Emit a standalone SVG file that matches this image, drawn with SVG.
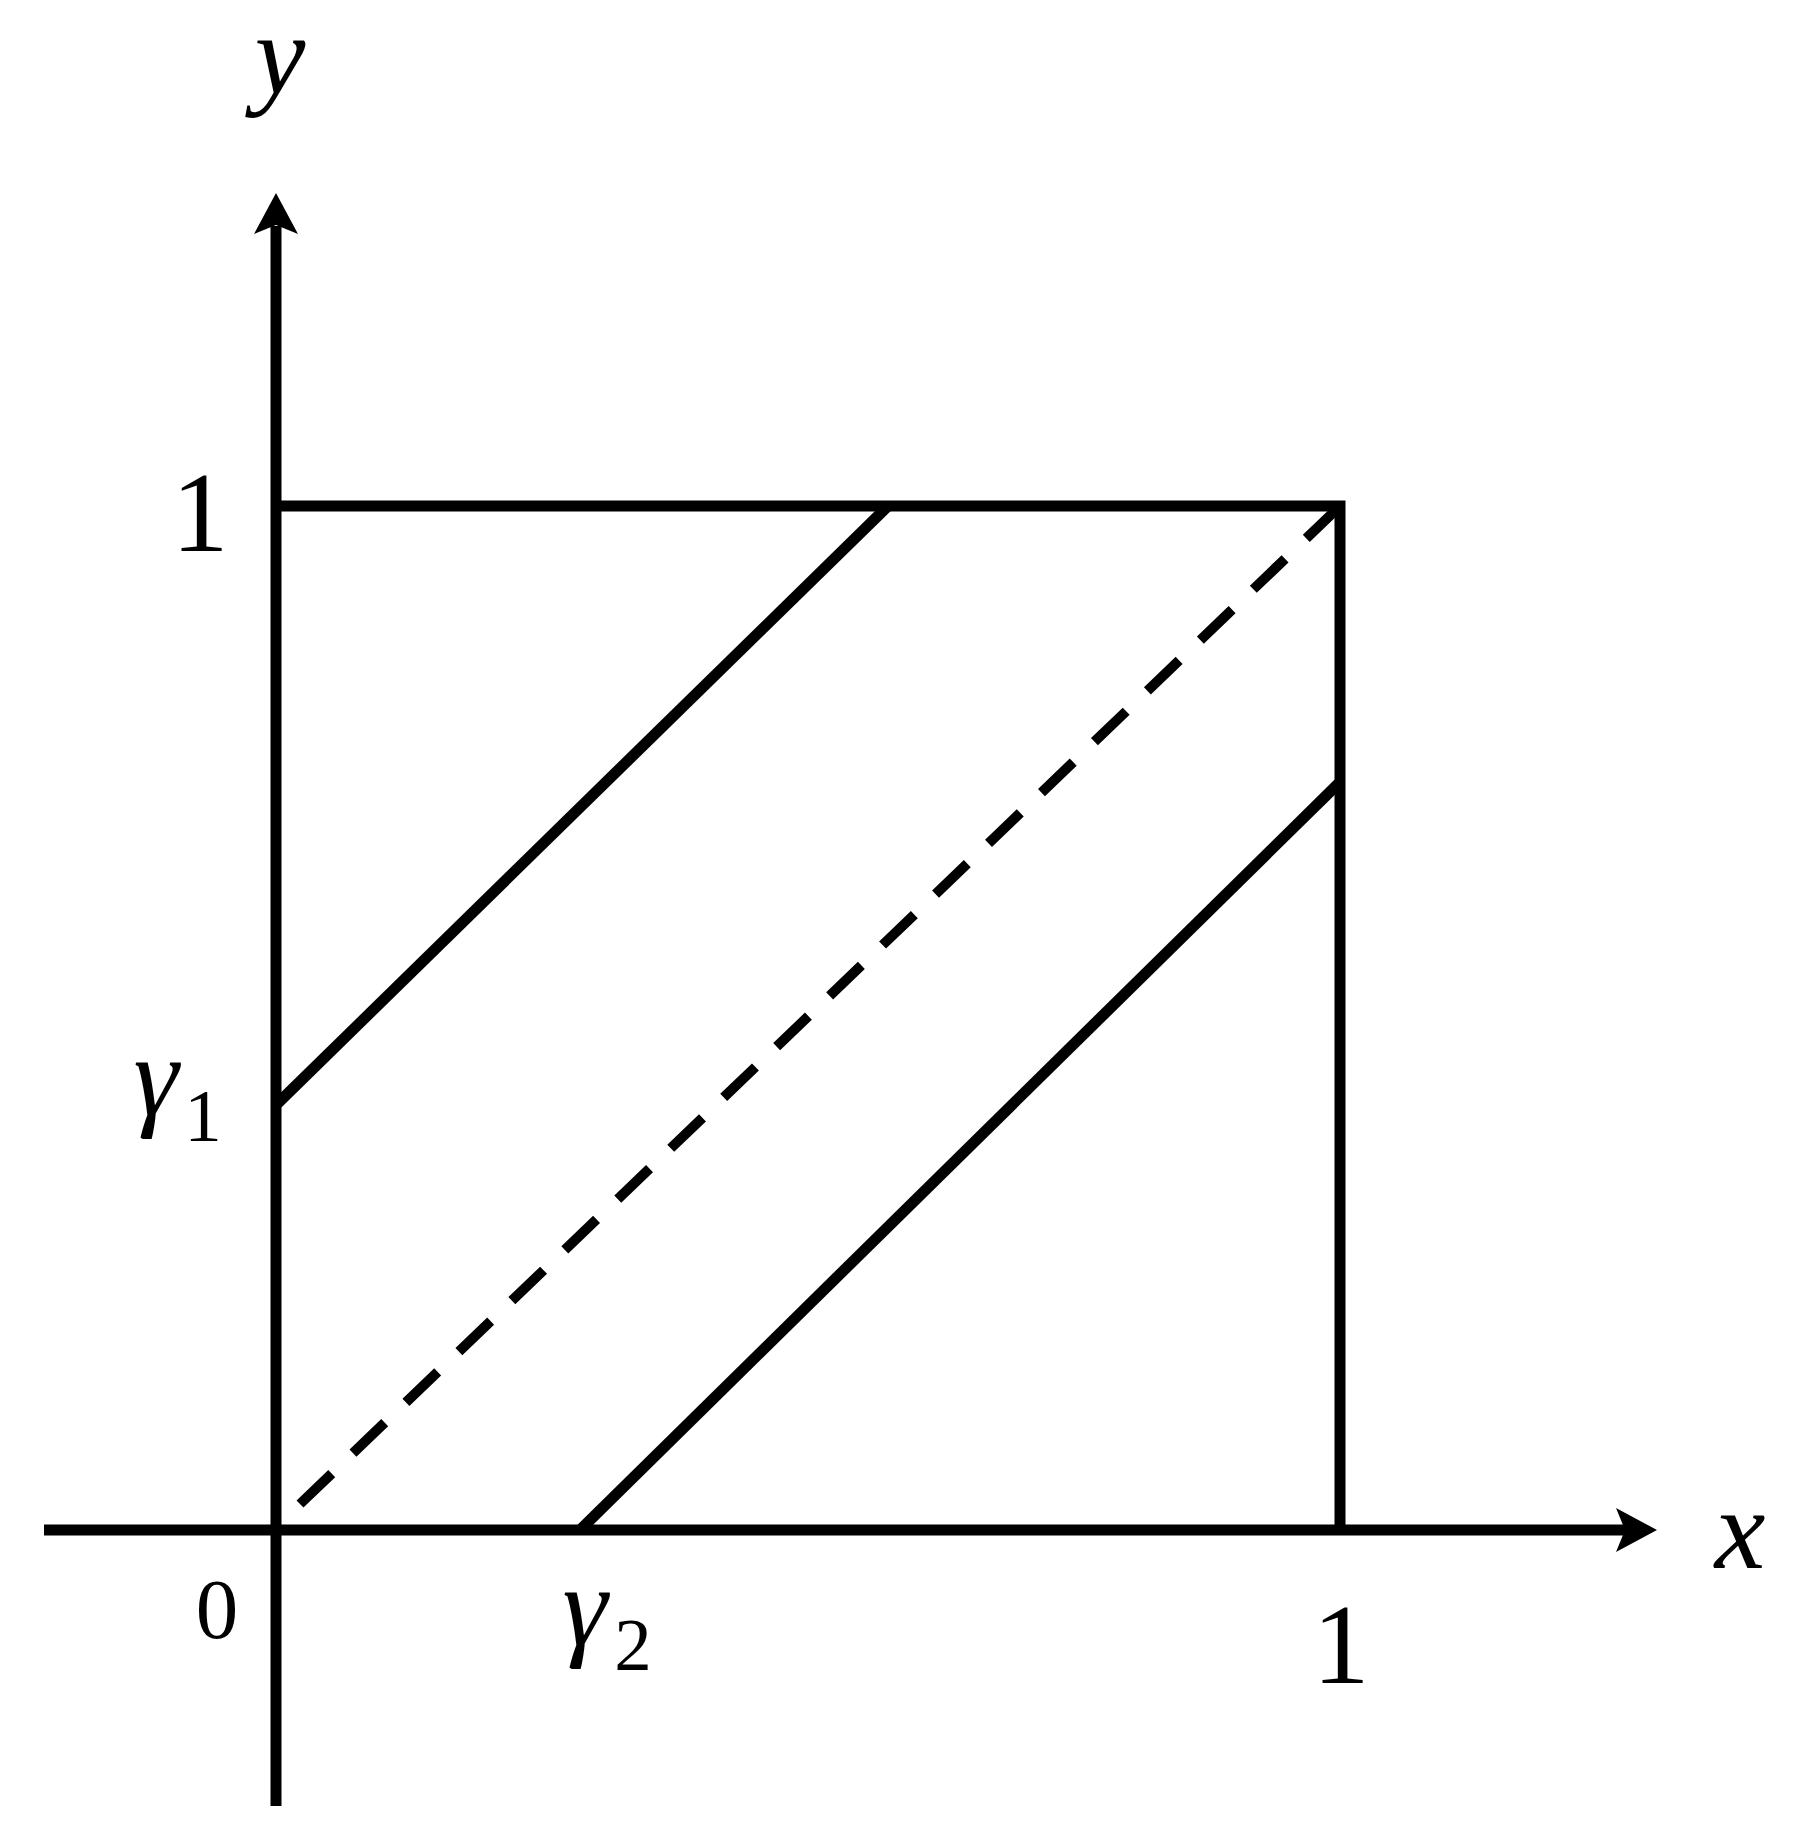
<svg xmlns="http://www.w3.org/2000/svg" width="1794" height="1829" viewBox="0 0 1794 1829">
  <style>
    .ln { stroke: #000; stroke-width: 11; fill: none; }
    .dash { stroke: #000; stroke-width: 10; fill: none; stroke-dasharray: 44 29.4; }
    .t { font-family: "Liberation Serif", "Times New Roman", serif; fill: #000; text-anchor: middle; }
    .it { font-style: italic; }
  </style>
  <rect width="1794" height="1829" fill="#fff"/>
  <g id="connectors">
    <line class="ln" x1="276" y1="1806" x2="276" y2="226"/>
    <polygon points="276,193 298,234 276,225 254,234" fill="#000"/>
    <line class="ln" x1="44" y1="1530" x2="1626" y2="1530"/>
    <polygon points="1657,1530 1616,1508 1625,1530 1616,1552" fill="#000"/>
    <polyline class="ln" points="276,506 1340,506 1340,1530" stroke-linejoin="miter"/>
    <line class="ln" x1="276" y1="1105" x2="888" y2="506"/>
    <line class="ln" x1="580" y1="1530" x2="1340" y2="782"/>
    <line class="dash" x1="300" y1="1504" x2="1338" y2="508"/>
  </g>
  <g id="labels">
    <text class="t it" x="280" y="94" font-size="114">y</text>
    <text class="t it" x="1740" y="1568" font-size="114">x</text>
    <text class="t" x="200" y="551" font-size="114">1</text>
    <text class="t" x="1341" y="1683" font-size="114">1</text>
    <text class="t" x="217" y="1638" font-size="85">0</text>
    <text class="t it" x="156" y="1115" font-size="114">γ</text>
    <text class="t" x="203" y="1141" font-size="75">1</text>
    <text class="t it" x="585" y="1645" font-size="114">γ</text>
    <text class="t" x="633" y="1670" font-size="75">2</text>
  </g>
</svg>
